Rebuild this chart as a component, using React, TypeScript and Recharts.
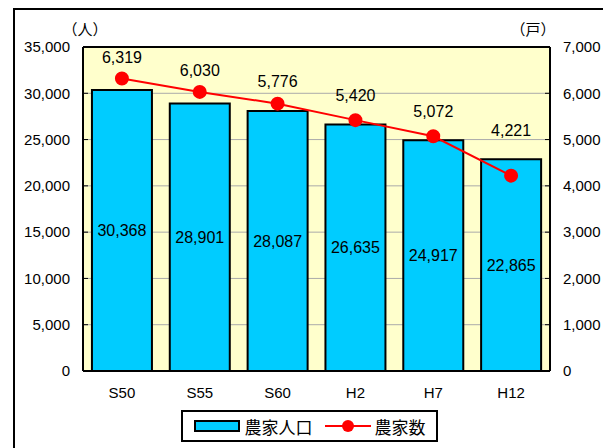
import React from "react";
import {
  Bar,
  CartesianGrid,
  ComposedChart,
  LabelList,
  Legend,
  Line,
  ReferenceLine,
  XAxis,
  YAxis,
} from "recharts";

const years = ["S50", "S55", "S60", "H2", "H7", "H12"];
const population = [30368, 28901, 28087, 26635, 24917, 22865];
const households = [6319, 6030, 5776, 5420, 5072, 4221];
const leftTicks = [0, 5000, 10000, 15000, 20000, 25000, 30000, 35000];
const rightTicks = [0, 1000, 2000, 3000, 4000, 5000, 6000, 7000];
const LEFT_MAX = 35000;
const RIGHT_MAX = 7000;

const data = years.map((y, i) => ({
  year: y,
  pop: population[i],
  house: households[i],
}));

const FONT = "'Liberation Sans', Arial, 'Noto Sans CJK JP', sans-serif";
const fmt = (v: number) => v.toLocaleString("en-US");

// household label: sits above the dot, or above the bar when the bar top is higher
const HouseLabel = (props: any) => {
  const vb = props.viewBox && props.viewBox.height != null ? props.viewBox : props;
  const { x, y, width, height } = vb;
  const idx = props.index != null ? props.index : households.indexOf(Number(props.value));
  const pop = population[idx];
  const house = households[idx];
  const bottom = y + height;
  const full = (height / pop) * LEFT_MAX;
  const dotY = bottom - (house / RIGHT_MAX) * full;
  const ly = Math.min(dotY, y - 8) - 21;
  return (
    <text
      x={x + width / 2}
      y={ly}
      textAnchor="middle"
      dominantBaseline="central"
      fontSize={16}
      fill="#000"
      fontFamily={FONT}
    >
      {fmt(house)}
    </text>
  );
};

const LegendBox = () => (
  <div style={{ height: 40, paddingTop: 4, boxSizing: "border-box" }}>
    <div
      style={{
        width: 257,
        height: 32,
        margin: "0 auto",
        border: "2px solid #000",
        boxSizing: "border-box",
        display: "flex",
        alignItems: "center",
        justifyContent: "center",
        fontFamily: FONT,
        fontSize: 17,
        color: "#000",
      }}
    >
      <svg width={46} height={14} style={{ marginRight: 5 }}>
        <rect x={1} y={2} width={44} height={10} fill="#00CCFF" stroke="#000" strokeWidth={2} />
      </svg>
      <span>農家人口</span>
      <svg width={46} height={14} style={{ marginLeft: 12, marginRight: 4 }}>
        <line x1={0} y1={7} x2={46} y2={7} stroke="#FF0000" strokeWidth={2} />
        <circle cx={23} cy={7} r={6} fill="#FF0000" />
      </svg>
      <span>農家数</span>
    </div>
  </div>
);

export default function App() {
  return (
    <div
      style={{
        marginLeft: 5,
        width: 589,
        height: 440,
        border: "2px solid #000",
        background: "#fff",
      }}
    >
      <ComposedChart
        width={589}
        height={440}
        data={data}
        margin={{ top: 37, right: 0, left: 0, bottom: 4 }}
        barCategoryGap="11.5%"
        style={{ fontFamily: FONT }}
      >
        <CartesianGrid
          yAxisId="left"
          vertical={false}
          stroke="#aaa"
          fill="#FFFFCC"
          fillOpacity={1}
        />
        <XAxis
          dataKey="year"
          axisLine={{ stroke: "#000", strokeWidth: 2 }}
          tickLine={false}
          tickMargin={10}
          height={35}
          tick={{ fill: "#000", fontSize: 15 }}
        />
        <YAxis
          yAxisId="left"
          width={68}
          domain={[0, LEFT_MAX]}
          ticks={leftTicks}
          tickFormatter={fmt}
          axisLine={{ stroke: "#000", strokeWidth: 2 }}
          tickLine={{ stroke: "#000" }}
          tickSize={-5}
          tickMargin={18}
          tick={{ fill: "#000", fontSize: 15 }}
          label={{
            content: ({ viewBox }: any) => (
              <text
                x={viewBox.x + viewBox.width + 2}
                y={viewBox.y - 12}
                textAnchor="middle"
                fontSize={15}
                fill="#000"
                fontFamily={FONT}
              >
                （人）
              </text>
            ),
          }}
        />
        <YAxis
          yAxisId="right"
          orientation="right"
          width={54}
          domain={[0, RIGHT_MAX]}
          ticks={rightTicks}
          tickFormatter={fmt}
          axisLine={{ stroke: "#000", strokeWidth: 2 }}
          tickLine={{ stroke: "#000" }}
          tickSize={-5}
          tickMargin={18}
          tick={{ fill: "#000", fontSize: 15, textAnchor: "start" }}
          label={{
            content: ({ viewBox }: any) => (
              <text
                x={viewBox.x - 17}
                y={viewBox.y - 12}
                textAnchor="middle"
                fontSize={15}
                fill="#000"
                fontFamily={FONT}
              >
                （戸）
              </text>
            ),
          }}
        />
        <ReferenceLine yAxisId="left" y={LEFT_MAX} stroke="#000" strokeWidth={2} />
        <Legend verticalAlign="bottom" content={() => <LegendBox />} />
        <Bar
          yAxisId="left"
          dataKey="pop"
          name="農家人口"
          fill="#00CCFF"
          stroke="#000"
          strokeWidth={2}
          isAnimationActive={false}
        >
          <LabelList
            dataKey="pop"
            position="center"
            formatter={(v: any) => fmt(Number(v))}
            fill="#000"
            fontSize={16}
          />
          <LabelList dataKey="house" content={HouseLabel} />
        </Bar>
        <Line
          yAxisId="right"
          dataKey="house"
          name="農家数"
          stroke="#FF0000"
          strokeWidth={2}
          dot={{ r: 6, fill: "#FF0000", stroke: "#FF0000" }}
          isAnimationActive={false}
        />
      </ComposedChart>
    </div>
  );
}
